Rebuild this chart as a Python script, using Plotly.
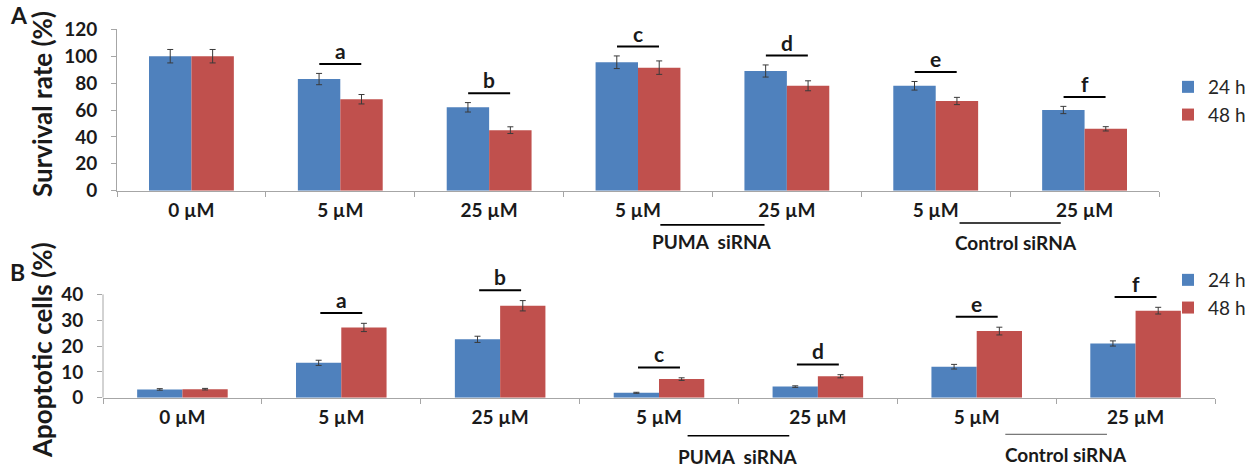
import plotly.graph_objects as go

# ---------------- data ----------------
categories = ["0 µM", "5 µM", "25 µM", "PUMA 5 µM", "PUMA 25 µM", "Control 5 µM", "Control 25 µM"]
tick_labels = ["0 µM", "5 µM", "25 µM", "5 µM", "25 µM", "5 µM", "25 µM"]
series_names = ["24 h", "48 h"]

survival_24h = [100, 83, 62, 95.5, 89, 78, 60]
survival_24h_err = [5, 4.2, 3.5, 4.7, 4.5, 3.2, 2.7]
survival_48h = [100, 68, 45, 91.5, 78, 66.7, 46]
survival_48h_err = [5, 3.5, 2.5, 5, 3.7, 2.7, 1.6]

apoptotic_24h = [3.2, 13.5, 22.6, 1.9, 4.3, 12.0, 21.0]
apoptotic_24h_err = [0.3, 1.0, 1.2, 0.2, 0.3, 0.9, 1.0]
apoptotic_48h = [3.3, 27.2, 35.6, 7.2, 8.3, 25.8, 33.7]
apoptotic_48h_err = [0.3, 1.6, 2.0, 0.5, 0.6, 1.5, 1.3]

sig_letters = ["", "a", "b", "c", "d", "e", "f"]
group_labels = ["PUMA\u00a0 siRNA", "Control siRNA"]
group_members = [[3, 4], [5, 6]]

# ---------------- style ----------------
BLUE = "#4F81BD"
RED = "#C0504D"
AXIS = "#a6a6a6"
TXT = "#1a1a1a"
FONT = "Lato"
W, H = 1251, 467

fig = go.Figure()

panels = [
    dict(xa="x", ya="y", legend="legend",
         s24=survival_24h, e24=survival_24h_err, s48=survival_48h, e48=survival_48h_err,
         sig_off=7.0, hw=0.141),
    dict(xa="x2", ya="y2", legend="legend2",
         s24=apoptotic_24h, e24=apoptotic_24h_err, s48=apoptotic_48h, e48=apoptotic_48h_err,
         sig_off=4.0, hw=0.132),
]

for p in panels:
    for name, vals, errs, col in [(series_names[0], p["s24"], p["e24"], BLUE),
                                  (series_names[1], p["s48"], p["e48"], RED)]:
        fig.add_trace(go.Bar(
            x=categories, y=vals, name=name, marker_color=col,
            marker_line_width=0,
            error_y=dict(type="data", array=errs, color="#3a3a3a", thickness=1, width=3),
            xaxis=p["xa"], yaxis=p["ya"], legend=p["legend"], legendgroup=p["legend"] + name,
        ))

shapes = []
annotations = []

# significance bars and letters
for p in panels:
    for i, letter in enumerate(sig_letters):
        if not letter:
            continue
        top = max(p["s24"][i] + p["e24"][i], p["s48"][i] + p["e48"][i])
        ly = top + p["sig_off"]
        shapes.append(dict(type="line", xref=p["xa"], yref=p["ya"],
                           x0=i - p["hw"], x1=i + p["hw"], y0=ly, y1=ly,
                           line=dict(color="black", width=2)))
        annotations.append(dict(xref=p["xa"], yref=p["ya"], x=i, y=ly, text=letter,
                                showarrow=False, yanchor="bottom", yshift=-1,
                                font=dict(family=FONT, size=21, color=TXT, weight="bold")))

# group (siRNA) lines + labels
grp_geom = {
    "x": dict(line_y=[-0.212, -0.200], text_y=[-0.316, -0.324], hw=[0.35, 0.34],
              lw=[1.6, 1.6], lc=["black", "black"], tx=[0.0, 0.04]),
    "x2": dict(line_y=[-0.32, -0.308], text_y=[-0.497, -0.482], hw=[0.32, 0.32],
               lw=[1.6, 1.0], lc=["black", "#555"], tx=[0.0, 0.06]),
}
for p in panels:
    g = grp_geom[p["xa"]]
    for k, (lab, mem) in enumerate(zip(group_labels, group_members)):
        mid = sum(mem) / len(mem)
        shapes.append(dict(type="line", xref=p["xa"], yref=p["ya"] + " domain",
                           x0=mid - g["hw"][k], x1=mid + g["hw"][k],
                           y0=g["line_y"][k], y1=g["line_y"][k],
                           line=dict(color=g["lc"][k], width=g["lw"][k])))
        annotations.append(dict(xref=p["xa"], yref=p["ya"] + " domain", x=mid + g["tx"][k],
                                y=g["text_y"][k], text=lab, showarrow=False,
                                yanchor="middle",
                                font=dict(family=FONT, size=19, color=TXT, weight="bold")))

# y axis line for panel B (only up to 40)
shapes.append(dict(type="line", xref="x2 domain", yref="y2", x0=0, x1=0, y0=0, y1=40,
                   line=dict(color=AXIS, width=1)))

# y-axis titles & panel letters
annotations += [
    dict(xref="paper", yref="paper", x=42 / W, y=1 - 104 / H, text="Survival rate (%)",
         textangle=-90, showarrow=False, xanchor="center", yanchor="middle",
         font=dict(family=FONT, size=26, color=TXT, weight="bold")),
    dict(xref="paper", yref="paper", x=42 / W, y=1 - 350 / H, text="Apoptotic cells (%)",
         textangle=-90, showarrow=False, xanchor="center", yanchor="middle",
         font=dict(family=FONT, size=26, color=TXT, weight="bold")),
    dict(xref="paper", yref="paper", x=8 / W, y=1 - 15 / H, text="A", showarrow=False,
         xanchor="left", yanchor="middle",
         font=dict(family=FONT, size=23, color=TXT, weight="bold")),
    dict(xref="paper", yref="paper", x=8 / W, y=1 - 272 / H, text="B", showarrow=False,
         xanchor="left", yanchor="middle",
         font=dict(family=FONT, size=23, color=TXT, weight="bold")),
]

tickfont = dict(family=FONT, size=19, color=TXT, weight="bold")
xcommon = dict(type="category", tickmode="array", tickvals=categories, ticktext=tick_labels,
               tickson="boundaries", ticks="outside", ticklen=5, tickcolor=AXIS,
               showline=True, linecolor=AXIS, linewidth=1, showgrid=False, zeroline=False,
               tickfont=tickfont, ticklabelstandoff=2, fixedrange=True, automargin=False)
ycommon = dict(ticks="outside", ticklen=5, tickcolor=AXIS, showgrid=False, zeroline=False,
               tickfont=tickfont, ticklabelstandoff=10, fixedrange=True, automargin=False)

legend_font = dict(family=FONT, size=19, color="#262626")

fig.update_layout(
    width=W, height=H,
    margin=dict(l=0, r=0, t=0, b=0, pad=0, autoexpand=False),
    paper_bgcolor="white", plot_bgcolor="white",
    barmode="group", bargap=0.43, bargroupgap=0,
    xaxis=dict(domain=[117 / W, 1159 / W], anchor="y", **xcommon),
    yaxis=dict(domain=[1 - 190.7 / H, 1 - 29.3 / H], anchor="x", range=[0, 120], dtick=20,
               showline=True, linecolor=AXIS, linewidth=1, **ycommon),
    xaxis2=dict(domain=[103 / W, 1215 / W], anchor="y2", **xcommon),
    yaxis2=dict(domain=[1 - 397.7 / H, 1 - 278.9 / H], anchor="x2", range=[0, 46],
                tickmode="array", tickvals=[0, 10, 20, 30, 40], showline=False, **ycommon),
    legend=dict(x=1, y=1 - 68 / H, xanchor="right", yanchor="top",
                font=legend_font, tracegroupgap=0, bgcolor="rgba(0,0,0,0)"),
    legend2=dict(x=1, y=1 - 261 / H, xanchor="right", yanchor="top",
                 font=legend_font, tracegroupgap=0, bgcolor="rgba(0,0,0,0)"),
    shapes=shapes,
    annotations=annotations,
    showlegend=True,
)

fig.write_html("out.html", config={"displayModeBar": False},
               post_script="document.body.style.margin='0px';")
